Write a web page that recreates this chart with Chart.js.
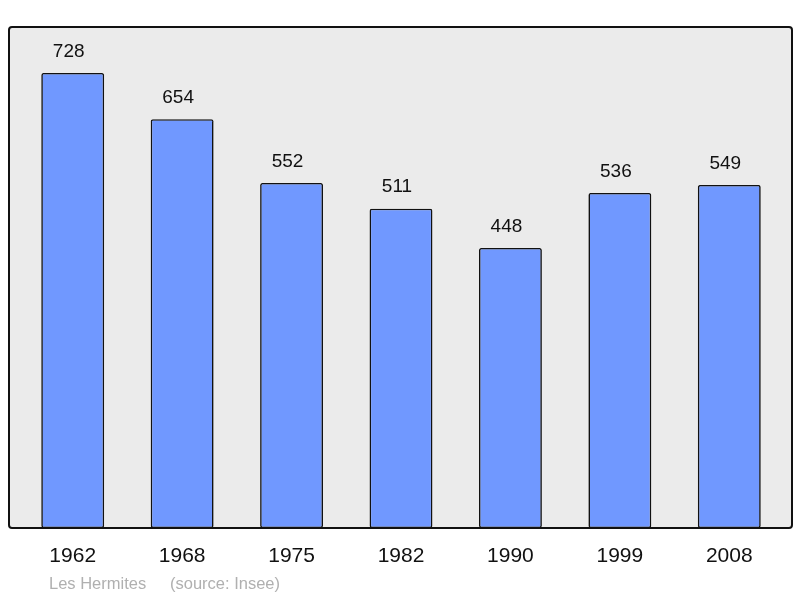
<!DOCTYPE html>
<html><head><meta charset="utf-8">
<script src="https://cdn.jsdelivr.net/npm/chart.js@4"></script>
<style>html,body{margin:0;padding:0;background:#fff}#w{width:800px;height:598px}</style>
</head><body><div id="w"><canvas id="c"></canvas></div>
<script>
const years = ["1962","1968","1975","1982","1990","1999","2008"];
const population = [728,654,552,511,448,536,549];
const footerName = "Les Hermites";
const footerSource = "(source: Insee)";

const boxPlugin = {
  id:'box',
  beforeDatasetsDraw(chart){
    const {ctx, chartArea:a} = chart;
    ctx.save();
    ctx.beginPath();
    ctx.roundRect(a.left-9, a.top, a.right-a.left+17, a.bottom-a.top, 3);
    ctx.fillStyle='#ebebeb'; ctx.fill();
    ctx.lineWidth=2; ctx.strokeStyle='#111'; ctx.stroke();
    ctx.restore();
  },
  afterDatasetsDraw(chart){
    const {ctx} = chart;
    const meta = chart.getDatasetMeta(0);
    ctx.save();
    ctx.font='19px "Liberation Sans", Arial, sans-serif';
    ctx.fillStyle='#111'; ctx.textAlign='center'; ctx.textBaseline='bottom';
    meta.data.forEach((el,i)=>{ ctx.fillText(String(population[i]), el.x-4, el.y-12); });
    ctx.font='16.5px "Liberation Sans", Arial, sans-serif';
    ctx.fillStyle='#b0b0b0'; ctx.textAlign='left'; ctx.textBaseline='middle';
    ctx.fillText(footerName, 49, 584);
    ctx.fillText(footerSource, 170, 584);
    ctx.restore();
  }
};

new Chart(document.getElementById('c'), {
  type:'bar',
  data:{labels:years, datasets:[{data:population, backgroundColor:'#7098ff', borderColor:'#111', borderWidth:1.6, borderRadius:2, borderSkipped:false, barPercentage:0.575, categoryPercentage:1}]},
  options:{
    responsive:true, maintainAspectRatio:false, animation:false,
    layout:{padding:{left:18,right:16,top:27,bottom:0}},
    plugins:{legend:{display:false}, tooltip:{enabled:false}},
    scales:{
      x:{grid:{display:false, drawTicks:false}, border:{display:false},
         ticks:{color:'#111', font:{size:21, family:'"Liberation Sans", Arial, sans-serif'}, padding:16, maxRotation:0},
         afterFit(s){ s.height=70; }},
      y:{display:false, min:0, max:801.6}
    }
  },
  plugins:[boxPlugin]
});
</script></body></html>
